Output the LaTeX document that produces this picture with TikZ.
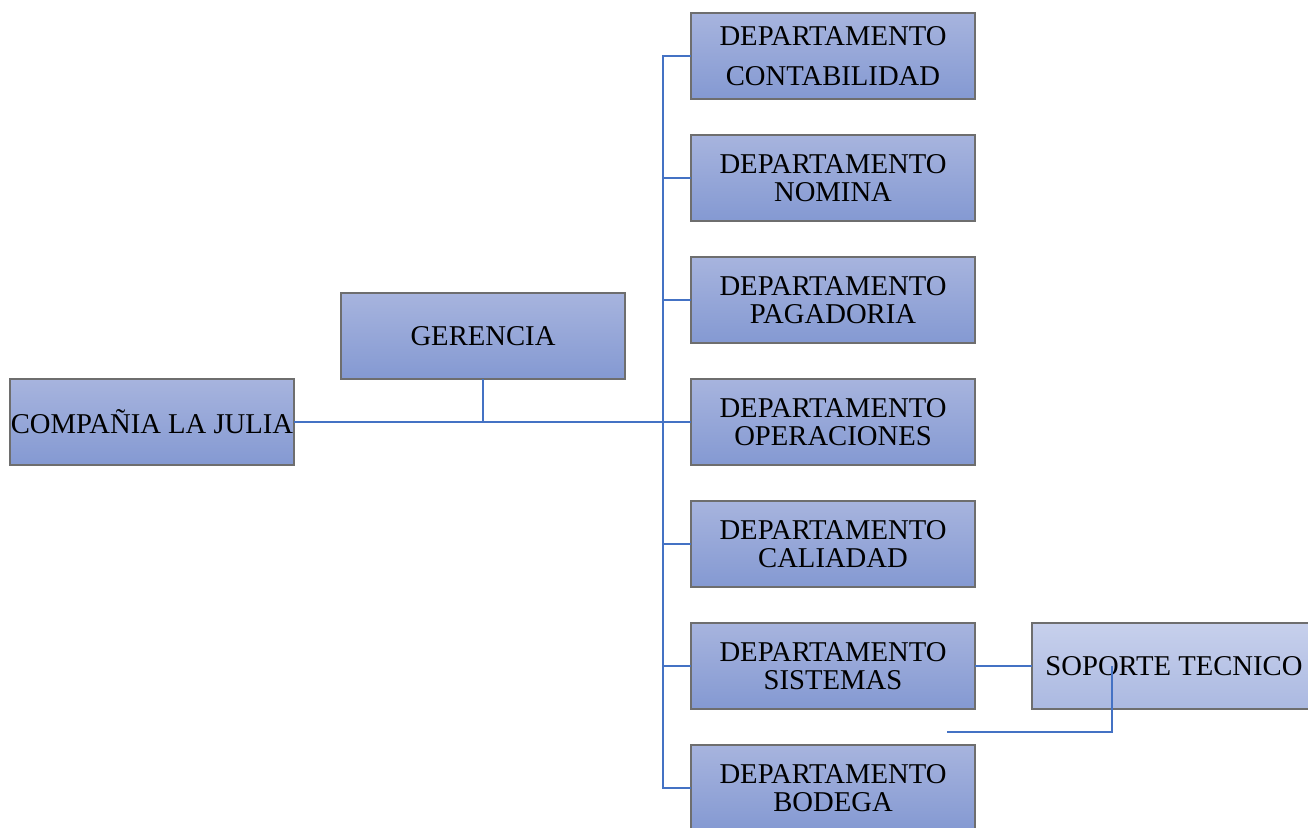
\documentclass[tikz,border=0pt]{standalone}
\usepackage{fontspec}
\setmainfont{Liberation Serif}
\definecolor{boxtop}{RGB}{167,180,222}
\definecolor{boxbot}{RGB}{132,153,210}
\definecolor{softtop}{RGB}{199,208,236}
\definecolor{softbot}{RGB}{171,185,225}
\definecolor{edge}{RGB}{110,110,110}
\definecolor{conn}{RGB}{68,114,196}
\begin{document}
\begin{tikzpicture}[x=0.75pt,y=-0.75pt,
  box/.style={draw=edge,line width=0.8pt,top color=boxtop,bottom color=boxbot,
    minimum width=213pt,minimum height=64.5pt,inner sep=0pt,outer sep=0pt,
    align=center,font=\fontsize{21.5}{21}\selectfont},
  softbox/.style={box,top color=softtop,bottom color=softbot},
  spine/.style={draw=conn,line width=1.9pt},
  thinline/.style={draw=conn,line width=0.9pt}]
\useasboundingbox (0,0) rectangle (1308,827);
\begin{scope}
\clip (0,0) rectangle (1308,827);
\node[box] (compania) at (152,422) {COMPAÑIA LA JULIA};
\node[box] (gerencia) at (483,336) {GERENCIA};
\node[box,font=\fontsize{21.5}{30}\selectfont] (contab) at (833,56) {DEPARTAMENTO\\CONTABILIDAD};
\node[box] (nomina) at (833,178) {DEPARTAMENTO\\NOMINA};
\node[box] (pagad) at (833,300) {DEPARTAMENTO\\PAGADORIA};
\node[box] (operac) at (833,422) {DEPARTAMENTO\\OPERACIONES};
\node[box] (caliad) at (833,544) {DEPARTAMENTO\\CALIADAD};
\node[box] (sistemas) at (833,666) {DEPARTAMENTO\\SISTEMAS};
\node[box] (bodega) at (833,788) {DEPARTAMENTO\\BODEGA};
\node[softbox] (soporte) at (1174,666) {SOPORTE TECNICO};
\coordinate (spx) at (663,0);
\draw[spine] (compania.east) -- (operac.west);
\draw[thinline] (gerencia.south) -- (gerencia.south |- compania.east);
\draw[spine] (contab.west) -- (contab.west -| spx) -- (bodega.west -| spx) -- (bodega.west);
\draw[spine] (nomina.west) -- (nomina.west -| spx);
\draw[spine] (pagad.west) -- (pagad.west -| spx);
\draw[spine] (caliad.west) -- (caliad.west -| spx);
\draw[spine] (sistemas.west) -- (sistemas.west -| spx);
\draw[thinline] (sistemas.east) -- (soporte.west);
\coordinate (o1) at (1112,666);
\coordinate (o2) at (947,732);
\draw[thinline] (o1) |- (o2);
\end{scope}
\end{tikzpicture}
\end{document}
